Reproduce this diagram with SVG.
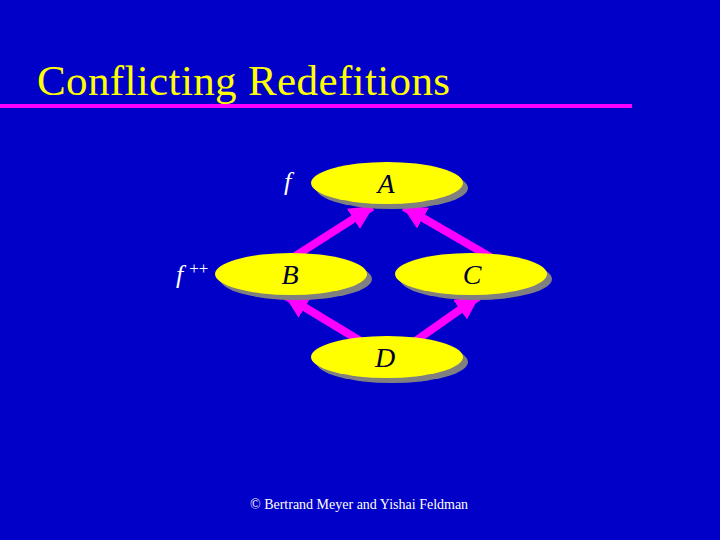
<svg xmlns="http://www.w3.org/2000/svg" width="720" height="540" viewBox="0 0 720 540">
<defs>
<style>
.sh{fill:#808080}
.el{fill:#ffff00}
.lb{font-family:"Liberation Serif",serif;font-style:italic;font-size:28px;fill:#000033;text-anchor:middle}
.fl{font-family:"Liberation Serif",serif;font-style:italic;font-size:26px;fill:#ffffff}
.cn{stroke:#ff00ff;stroke-width:8;fill:none}
</style>
<marker id="ah" markerUnits="userSpaceOnUse" markerWidth="26" markerHeight="24" refX="22" refY="12" orient="auto">
<path d="M0,0 L24,12 L0,24 Z" fill="#ff00ff"/>
</marker>
</defs>
<rect width="720" height="540" fill="#0000c8"/>
<text x="37" y="95" font-family="Liberation Serif,serif" font-size="43" textLength="413" fill="#ffff00">Conflicting Redefitions</text>
<rect x="0" y="104" width="632" height="4" fill="#ff00ff"/>
<g id="connectors">
<line class="cn" x1="292" y1="258" x2="372" y2="207" marker-end="url(#ah)"/>
<line class="cn" x1="492" y1="258" x2="404" y2="207" marker-end="url(#ah)"/>
<line class="cn" x1="362" y1="342" x2="286" y2="296" marker-end="url(#ah)"/>
<line class="cn" x1="414" y1="342" x2="478" y2="297" marker-end="url(#ah)"/>
</g>
<g id="A">
<ellipse class="sh" cx="392" cy="188" rx="76" ry="21"/>
<ellipse class="el" cx="387" cy="183" rx="76" ry="21"/>
<text class="lb" x="386" y="193">A</text>
</g>
<g id="B">
<ellipse class="sh" cx="296" cy="279" rx="76" ry="21"/>
<ellipse class="el" cx="291" cy="274" rx="76" ry="21"/>
<text class="lb" x="290" y="284">B</text>
</g>
<g id="C">
<ellipse class="sh" cx="476" cy="279" rx="76" ry="21"/>
<ellipse class="el" cx="471" cy="274" rx="76" ry="21"/>
<text class="lb" x="472" y="284">C</text>
</g>
<g id="D">
<ellipse class="sh" cx="392" cy="362" rx="76" ry="21"/>
<ellipse class="el" cx="387" cy="357" rx="76" ry="21"/>
<text class="lb" x="385" y="367">D</text>
</g>
<text class="fl" x="284" y="190">f</text>
<text class="fl" x="176" y="283">f<tspan font-style="normal" font-size="17" dx="6" dy="-9">++</tspan></text>
<text x="250" y="509" font-family="Liberation Serif,serif" font-size="14" fill="#ffffff">© Bertrand Meyer and Yishai Feldman</text>
</svg>
